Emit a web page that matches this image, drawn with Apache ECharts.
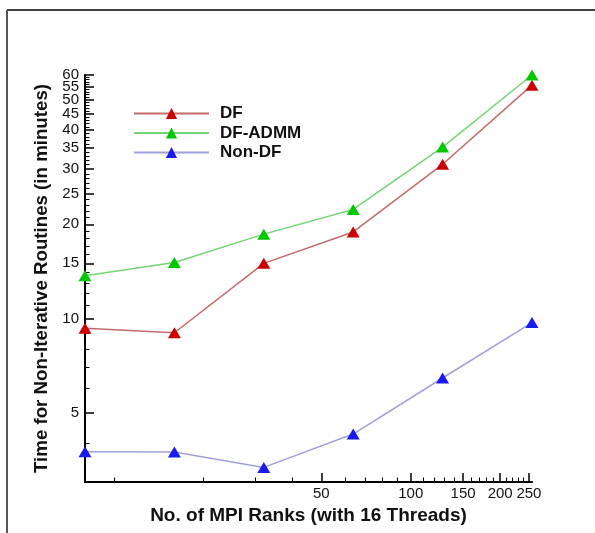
<!DOCTYPE html>
<html>
<head>
<meta charset="utf-8">
<script src="https://cdn.jsdelivr.net/npm/echarts@6/dist/echarts.min.js"></script>
<style>
  html, body { margin: 0; padding: 0; background: #fff; }
  #chart { width: 595px; height: 533px; }
</style>
</head>
<body>
<div id="chart"></div>
<script>
// MPI ranks (x) and minutes (y)
var ranks = [8, 16, 32, 64, 128, 256];
var dfTime = [9.3, 9.0, 15.0, 18.9, 31.1, 55.7];
var admmTime = [13.7, 15.1, 18.6, 22.3, 35.3, 60];
var nonDfTime = [3.75, 3.74, 3.34, 4.27, 6.45, 9.7];

var xMajor = [50, 100, 150, 200, 250];
var xMinor = [10, 20, 30, 40, 60, 70, 80, 90, 110, 120, 130, 140, 160, 170, 180, 190, 210, 220, 230, 240];
var yMajor = [5, 10, 15, 20, 25, 30, 35, 40, 45, 50, 55, 60];
var yMinor = [4, 6, 7, 8, 9, 11, 12, 13, 14, 16, 17, 18, 19, 21, 22, 23, 24, 26, 27, 28, 29,
  31, 32, 33, 34, 36, 37, 38, 39, 41, 42, 43, 44, 46, 47, 48, 49, 51, 52, 53, 54, 56, 57, 58, 59];

var lg = Math.log10;

// the upper y labels sit very close; split them over two axes so none get dropped
var yLabA = yMajor.filter(function (v, i) { return i % 2 === 0; });
var yLabB = yMajor.filter(function (v, i) { return i % 2 === 1; });

var myChart = echarts.init(document.getElementById('chart'));

function pairs(ys) {
    return ranks.map(function (r, i) { return [lg(r), lg(ys[i])]; });
}

function mkSeries(name, ys, lineColor, markColor) {
    return {
        name: name,
        type: 'line',
        data: pairs(ys),
        symbol: 'triangle',
        symbolSize: [13, 11],
        showAllSymbol: true,
        lineStyle: { color: lineColor, width: 1.5 },
        itemStyle: { color: markColor },
        animation: false
    };
}

var fmt = function (v) { return String(Math.round(Math.pow(10, v))); };
var font = 'Liberation Sans, Arial, sans-serif';

function yLabels(vals) {
    return { margin: 6, formatter: fmt, customValues: vals.map(lg),
        color: '#111', fontSize: 15, fontFamily: font };
}

var xMin = lg(8), xMax = lg(256.01);
var yMin = lg(3), yMax = lg(60.01);

var option = {
    backgroundColor: '#fff',
    animation: false,
    grid: { left: 85, right: 63, top: 75, bottom: 51 },
    legend: {
        orient: 'vertical',
        left: 128,
        top: 100,
        itemWidth: 75,
        itemHeight: 14,
        itemGap: 2.5,
        textStyle: {
            color: '#111', fontSize: 17, fontWeight: 'bold',
            fontFamily: font, lineHeight: 14,
            padding: [0, 0, 0, 6]
        },
        data: ['DF', 'DF-ADMM', 'Non-DF']
    },
    xAxis: [{
        type: 'value',
        min: xMin, max: xMax,
        name: 'No. of MPI Ranks (with 16 Threads)',
        nameLocation: 'middle',
        nameGap: 20,
        nameTextStyle: { color: '#111', fontSize: 19, fontWeight: 'bold', fontFamily: font },
        axisLine: { show: true, onZero: false, lineStyle: { color: '#000', width: 2 } },
        axisTick: { show: true, inside: true, length: 9, lineStyle: { color: '#000', width: 1.5 },
            customValues: xMajor.map(lg) },
        axisLabel: { margin: 4, formatter: fmt, customValues: xMajor.map(lg),
            showMaxLabel: true, color: '#111', fontSize: 15, fontFamily: font },
        splitLine: { show: false }
    }, {
        type: 'value',
        position: 'bottom',
        min: xMin, max: xMax,
        axisLine: { show: false },
        axisTick: { show: true, inside: true, length: 4.5, lineStyle: { color: '#000', width: 1 },
            customValues: xMinor.map(lg) },
        axisLabel: { show: false },
        splitLine: { show: false }
    }],
    yAxis: [{
        type: 'value',
        min: yMin, max: yMax,
        name: 'Time for Non-Iterative Routines (in minutes)',
        nameLocation: 'middle',
        nameGap: 33,
        nameTextStyle: { color: '#111', fontSize: 18.7, fontWeight: 'bold', fontFamily: font },
        axisLine: { show: true, onZero: false, lineStyle: { color: '#000', width: 2 } },
        axisTick: { show: true, inside: true, length: 9, lineStyle: { color: '#000', width: 1.5 },
            customValues: yMajor.map(lg) },
        axisLabel: yLabels(yLabA),
        splitLine: { show: false }
    }, {
        type: 'value',
        position: 'left',
        min: yMin, max: yMax,
        axisLine: { show: false },
        axisTick: { show: true, inside: true, length: 4.5, lineStyle: { color: '#000', width: 1 },
            customValues: yMinor.map(lg) },
        axisLabel: yLabels(yLabB),
        splitLine: { show: false }
    }],
    series: [
        mkSeries('DF', dfTime, '#c46a6a', '#cc0000'),
        mkSeries('DF-ADMM', admmTime, '#74d474', '#00c800'),
        mkSeries('Non-DF', nonDfTime, '#a0a0dc', '#1a1aee')
    ],
    graphic: [
        { type: 'line', shape: { x1: 7, y1: 10, x2: 7, y2: 533 }, style: { stroke: '#555', lineWidth: 2 } },
        { type: 'line', shape: { x1: 7, y1: 10, x2: 595, y2: 10 }, style: { stroke: '#444', lineWidth: 2 } }
    ]
};

myChart.setOption(option);

window.addEventListener('resize', function () {
    myChart.resize();
});
</script>
</body>
</html>
